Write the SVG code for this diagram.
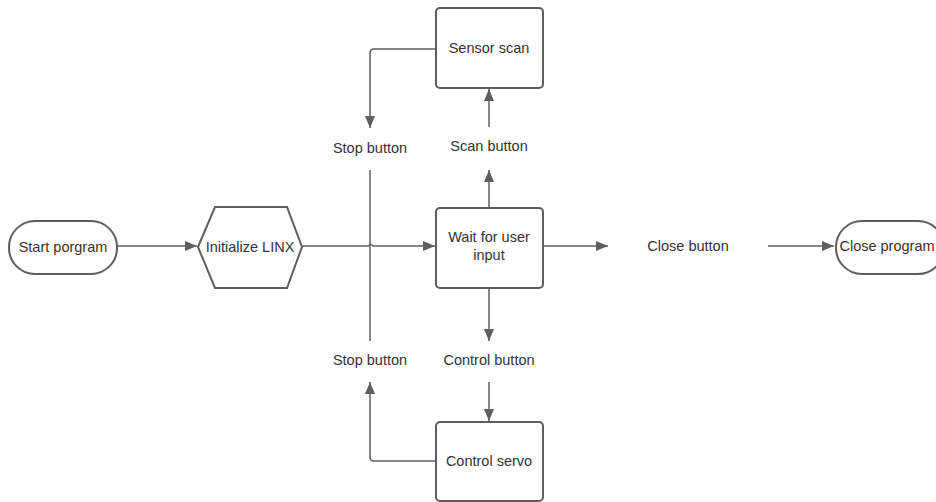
<svg xmlns="http://www.w3.org/2000/svg" width="936" height="502" viewBox="0 0 936 502">
  <style>
    .shape { fill: #ffffff; stroke: #5e5e5e; stroke-width: 2; }
    .line { fill: none; stroke: #5e5e5e; stroke-width: 1.5; }
    text { font-family: "Liberation Sans", Arial, sans-serif; font-size: 14.5px; fill: #333333; text-anchor: middle; dominant-baseline: central; }
  </style>
  <defs>
    <marker id="arrow" viewBox="0 0 12 10" refX="12" refY="5" markerWidth="12" markerHeight="10" markerUnits="userSpaceOnUse" orient="auto">
      <path d="M0,0 L12,5 L0,10 Z" fill="#5e5e5e"/>
    </marker>
  </defs>
  <rect width="936" height="502" fill="#ffffff"/>

  <g id="connectors">
    <!-- start -> initialize -->
    <path class="line" d="M117,246 H197" marker-end="url(#arrow)"/>
    <!-- initialize -> wait (with a small hop over the vertical line) -->
    <path class="line" d="M302,246 H368 Q371,243 373,246 H435" marker-end="url(#arrow)"/>
    <!-- wait -> close button -->
    <path class="line" d="M543,246 H608" marker-end="url(#arrow)"/>
    <!-- close button -> close program -->
    <path class="line" d="M768,246 H834" marker-end="url(#arrow)"/>
    <!-- wait -> scan button -->
    <path class="line" d="M489,208 V170" marker-end="url(#arrow)"/>
    <!-- scan button -> sensor scan -->
    <path class="line" d="M489,127 V89" marker-end="url(#arrow)"/>
    <!-- sensor scan -> stop button (top) -->
    <path class="line" d="M436,49 H374 Q370,49 370,53 V128" marker-end="url(#arrow)"/>
    <!-- stop button (top) to stop button (bottom) -->
    <path class="line" d="M370,170 V341"/>
    <!-- wait -> control button -->
    <path class="line" d="M489,288 V341" marker-end="url(#arrow)"/>
    <!-- control button -> control servo -->
    <path class="line" d="M489,382 V421" marker-end="url(#arrow)"/>
    <!-- control servo -> stop button (bottom) -->
    <path class="line" d="M436,461 H374 Q370,461 370,457 V382" marker-end="url(#arrow)"/>
  </g>

  <g id="start-program">
    <rect class="shape" x="9" y="221" width="108" height="53" rx="26" ry="26"/>
    <text x="63" y="247">Start porgram</text>
  </g>

  <g id="initialize-linx">
    <polygon class="shape" points="198,247 215,207 287,207 302,247 287,288 215,288"/>
    <text x="250" y="247">Initialize LINX</text>
  </g>

  <g id="wait-input">
    <rect class="shape" x="436" y="208" width="107" height="80" rx="4" ry="4"/>
    <text x="489" y="237">Wait for user</text>
    <text x="489" y="255">input</text>
  </g>

  <g id="sensor-scan">
    <rect class="shape" x="436" y="8" width="107" height="80" rx="4" ry="4"/>
    <text x="489" y="48">Sensor scan</text>
  </g>

  <g id="control-servo">
    <rect class="shape" x="436" y="422" width="107" height="79" rx="4" ry="4"/>
    <text x="489" y="461">Control servo</text>
  </g>

  <g id="close-program">
    <rect class="shape" x="836" y="221" width="108" height="53" rx="26" ry="26"/>
    <text x="887" y="246">Close program</text>
  </g>

  <g id="stop-button-top">
    <text x="370" y="148">Stop button</text>
  </g>
  <g id="scan-button">
    <text x="489" y="146">Scan button</text>
  </g>
  <g id="close-button">
    <text x="688" y="246">Close button</text>
  </g>
  <g id="stop-button-bottom">
    <text x="370" y="360">Stop button</text>
  </g>
  <g id="control-button">
    <text x="489" y="360">Control button</text>
  </g>
</svg>
